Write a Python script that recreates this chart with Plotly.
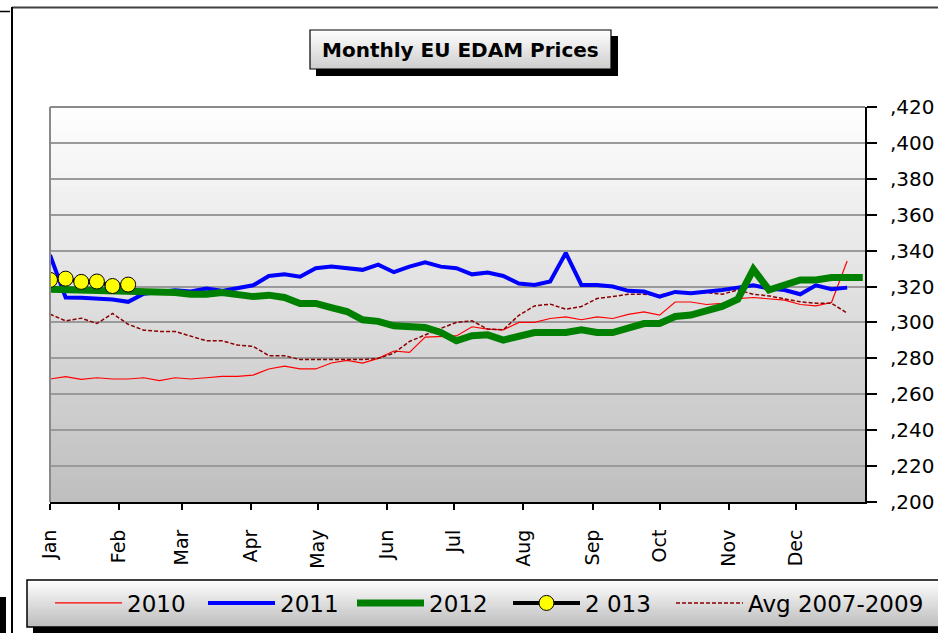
import plotly.graph_objects as go
import pandas as pd

# ---------------- data ----------------
week_dates = pd.date_range("2010-01-01", periods=53, freq="7D")

price_2010 = [0.2685, 0.2698, 0.2683, 0.2692, 0.2685, 0.2685, 0.2692, 0.2676, 0.2692, 0.2685,
              0.2692, 0.2700, 0.2700, 0.2707, 0.2741, 0.2757, 0.2741, 0.2741, 0.2774, 0.2789,
              0.2774, 0.2800, 0.2841, 0.2833, 0.2918, 0.2922, 0.2925, 0.2976, 0.2963, 0.2959,
              0.3000, 0.3000, 0.3022, 0.3031, 0.3015, 0.3031, 0.3022, 0.3045, 0.3059, 0.3041,
              0.3114, 0.3114, 0.3100, 0.3106, 0.3133, 0.3139, 0.3133, 0.3124, 0.3100, 0.3092,
              0.3111, 0.3342]

price_2011 = [0.3376, 0.3139, 0.3137, 0.3132, 0.3128, 0.3115, 0.3160, 0.3170, 0.3180, 0.3172,
              0.3189, 0.3176, 0.3189, 0.3207, 0.3259, 0.3268, 0.3255, 0.3302, 0.3311, 0.3302,
              0.3293, 0.3322, 0.3280, 0.3311, 0.3335, 0.3311, 0.3302, 0.3268, 0.3278, 0.3259,
              0.3217, 0.3209, 0.3228, 0.3387, 0.3209, 0.3209, 0.3200, 0.3176, 0.3172, 0.3144,
              0.3170, 0.3163, 0.3170, 0.3181, 0.3194, 0.3207, 0.3189, 0.3181, 0.3157, 0.3207,
              0.3185, 0.3194]

price_2012 = [0.3185, 0.3183, 0.3182, 0.3182, 0.3181, 0.3180, 0.3180, 0.3172, 0.3167, 0.3157,
              0.3157, 0.3167, 0.3157, 0.3144, 0.3152, 0.3139, 0.3106, 0.3106, 0.3083, 0.3061,
              0.3015, 0.3006, 0.2981, 0.2981, 0.2972, 0.2944, 0.2898, 0.2926, 0.2931, 0.2902,
              0.2926, 0.2944, 0.2944, 0.2944, 0.2959, 0.2944, 0.2944, 0.2972, 0.2994, 0.2994,
              0.3033, 0.3041, 0.3065, 0.3089, 0.3129, 0.3296, 0.3181, 0.3207, 0.3237, 0.3237,
              0.3250, 0.3250, 0.3250]

price_2013 = [0.3237, 0.3244, 0.3226, 0.3228, 0.3203, 0.3211]

price_avg = [0.3046, 0.3009, 0.3024, 0.2994, 0.3050, 0.2990, 0.2957, 0.2950, 0.2950, 0.2926,
             0.2898, 0.2898, 0.2874, 0.2867, 0.2815, 0.2815, 0.2793, 0.2793, 0.2793, 0.2793,
             0.2793, 0.2800, 0.2829, 0.2894, 0.2931, 0.2967, 0.3000, 0.3009, 0.2963, 0.2959,
             0.3040, 0.3092, 0.3102, 0.3074, 0.3089, 0.3133, 0.3144, 0.3157, 0.3157, 0.3153,
             0.3167, 0.3163, 0.3167, 0.3157, 0.3181, 0.3157, 0.3148, 0.3133, 0.3115, 0.3107,
             0.3107, 0.3052]

month_ticks = pd.date_range("2010-01-01", periods=12, freq="MS")
month_labels = ["Jan", "Feb", "Mar", "Apr", "May", "Jun",
                "Jul", "Aug", "Sep", "Oct", "Nov", "Dec"]
price_ticks = [0.20, 0.22, 0.24, 0.26, 0.28, 0.30, 0.32, 0.34, 0.36, 0.38, 0.40, 0.42]
price_labels = [",200", ",220", ",240", ",260", ",280", ",300",
                ",320", ",340", ",360", ",380", ",400", ",420"]

# ---------------- layout geometry ----------------
W, H = 938, 633
ML, MR, MT, MB = 50, 73, 107, 131
PW, PH = W - ML - MR, H - MT - MB
FONT = "DejaVu Sans"


def px(x):
    return (x - ML) / PW


def py(y):
    return (H - MB - y) / PH


def lerp_color(c0, c1, t):
    return "rgb(%d,%d,%d)" % tuple(round(a + (b - a) * t) for a, b in zip(c0, c1))


shapes = []


def gradient_rect(x0, x1, y0, y1, ctop, cbot, n, layer="above"):
    for k in range(n):
        ya = y0 + (y1 - y0) * k / n
        yb = y0 + (y1 - y0) * (k + 1) / n
        if k < n - 1:
            yb += 0.8
        shapes.append(dict(type="rect", xref="paper", yref="paper",
                           x0=px(x0), x1=px(x1), y0=py(ya), y1=py(yb),
                           fillcolor=lerp_color(ctop, cbot, (k + 0.5) / n),
                           line=dict(width=0), layer=layer))


def rect(x0, x1, y0, y1, fill=None, lc=None, lw=0, layer="above"):
    d = dict(type="rect", xref="paper", yref="paper",
             x0=px(x0), x1=px(x1), y0=py(y0), y1=py(y1),
             line=dict(width=lw, color=lc or "rgba(0,0,0,0)"), layer=layer)
    d["fillcolor"] = fill if fill else "rgba(0,0,0,0)"
    shapes.append(d)


def line(x0, y0, x1, y1, color, width, layer="above"):
    shapes.append(dict(type="line", xref="paper", yref="paper",
                       x0=px(x0), x1=px(x1), y0=py(y0), y1=py(y1),
                       line=dict(color=color, width=width), layer=layer))


# plot-area background gradient
gradient_rect(ML, W - MR, MT, H - MB, (255, 255, 255), (190, 190, 190), 60, layer="below")
# plot top/left border
line(ML, MT, W - MR, MT, "#8a8a8a", 2)
line(ML, MT, ML, H - MB, "#8a8a8a", 2)

# outer frame fragments
line(12, 7.5, 945, 7.5, "#404040", 2)
line(12, 7, 12, 640, "#000000", 2)
line(0, 11.5, 10, 11.5, "#000000", 1.5)
rect(0, 6, 597, 640, fill="#000000")

# title box
rect(316, 618, 36, 76, fill="#000000")
gradient_rect(310, 611, 30, 69, (255, 255, 255), (205, 205, 205), 16)
rect(310, 611, 30, 69, lc="#000000", lw=1.2)

# legend box
rect(33, 950, 586, 640, fill="#000000")
gradient_rect(27, 950, 580, 627, (255, 255, 255), (188, 188, 188), 18)
rect(27, 950, 580, 627, lc="#000000", lw=1.5)

# ---------------- traces ----------------
fig = go.Figure()
fig.add_trace(go.Scatter(x=week_dates[:len(price_2010)], y=price_2010, name="2010",
                         mode="lines", line=dict(color="#ff0000", width=1.2),
                         legendrank=1, legendwidth=71))
fig.add_trace(go.Scatter(x=week_dates[:len(price_avg)], y=price_avg, name="Avg 2007-2009",
                         mode="lines", line=dict(color="#8b0000", width=1.5, dash="4px,2px"),
                         legend="legend2"))
fig.add_trace(go.Scatter(x=week_dates[:len(price_2011)], y=price_2011, name="2011",
                         mode="lines", line=dict(color="#0000ff", width=4),
                         legendrank=2, legendwidth=67))
fig.add_trace(go.Scatter(x=week_dates[:len(price_2012)], y=price_2012, name="2012",
                         mode="lines", line=dict(color="#008000", width=7),
                         legendrank=3, legendwidth=74))
fig.add_trace(go.Scatter(x=week_dates[:len(price_2013)], y=price_2013, name="2 013",
                         mode="lines+markers", line=dict(color="#000000", width=4),
                         marker=dict(color="#ffff00", size=15, line=dict(color="#000000", width=1)),
                         legendrank=4, legendwidth=70))

legend_common = dict(orientation="h", xanchor="left", yanchor="middle",
                     xref="container", yref="container",
                     bgcolor="rgba(0,0,0,0)", borderwidth=0, itemwidth=67,
                     font=dict(family=FONT, size=23, color="#000000"))

fig.update_layout(
    width=W, height=H,
    margin=dict(l=ML, r=MR, t=MT, b=MB, pad=0, autoexpand=False),
    paper_bgcolor="#ffffff", plot_bgcolor="rgba(0,0,0,0)",
    font=dict(family=FONT, color="#000000"),
    shapes=shapes,
    showlegend=True,
    legend=dict(x=50 / W, y=1 - 603 / H, traceorder="normal", **legend_common),
    legend2=dict(x=671 / W, y=1 - 603 / H, **legend_common),
    annotations=[dict(text="<b>Monthly EU EDAM Prices</b>", xref="paper", yref="paper",
                      x=px(460), y=py(50), xanchor="center", yanchor="middle",
                      showarrow=False, font=dict(family=FONT, size=20, color="#000000"))],
)

fig.update_xaxes(
    type="date", range=["2010-01-01", "2011-01-01"],
    tickvals=month_ticks, ticktext=month_labels, tickangle=-90,
    showgrid=False, zeroline=False, automargin=False,
    showline=True, linecolor="#000000", linewidth=2,
    ticks="outside", ticklen=6, tickwidth=1.5, tickcolor="#000000",
    ticklabelstandoff=12,
    tickfont=dict(family=FONT, size=19, color="#000000"),
)
fig.update_yaxes(
    side="right", range=[0.20, 0.42],
    tickvals=price_ticks, ticktext=price_labels,
    showgrid=True, gridcolor="#9a9a9a", gridwidth=1.5, zeroline=False, automargin=False,
    showline=True, linecolor="#000000", linewidth=2,
    ticks="outside", ticklen=10, tickwidth=1.5, tickcolor="#000000",
    ticklabelstandoff=9,
    tickfont=dict(family=FONT, size=20, color="#000000"),
)

fig.write_html("out.html", config={"displayModeBar": False},
               post_script="document.body.style.margin='0px';document.body.style.overflow='hidden';")
